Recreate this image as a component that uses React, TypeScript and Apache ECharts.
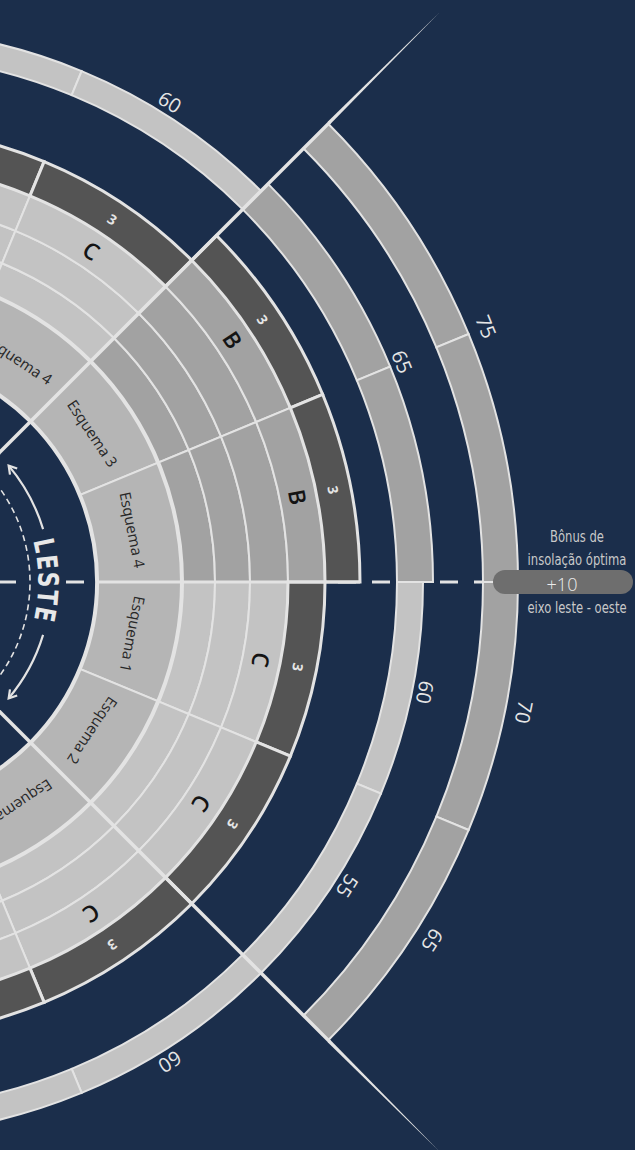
import React, { useEffect, useRef } from "react";
import * as echarts from "echarts";

// ---------------- data ----------------
// angular sectors (degrees, counter-clockwise from east), each 22.5° wide
const sectorEdges = [90, 67.5, 45, 22.5, 0, -22.5, -45, -67.5, -90];
const esquemaNames = ["", "Esquema 4", "Esquema 3", "Esquema 4", "Esquema 1", "Esquema 2", "Esquema 3", ""];
const gradeLetters = ["", "C", "B", "B", "C", "C", "C", ""];
const darkBandLabels = ["", "3", "3", "3", "3", "3", "3", ""];
const greyLevels = [3, 3, 4, 4, 3, 3, 3, 3];
const highlighted = [false, false, true, true, false, false, false, false];
// radial ring boundaries (radius-axis units)
const ringEdges = [227, 312, 345, 380, 418, 455, 490];
const middleScores = [60, 60, 65, 65, 60, 55, 60, 60];
const outerScores = [0, 0, 75, 75, 70, 65, 0, 0];
const middleLabelValues = [60, 65, 60, 55, 60];
const middleLabelAngles = [58, 22.5, -11.25, -32.5, -58];
const outerLabelValues = [75, 70, 65];
const outerLabelAngles = [22.5, -11.25, -32.5];
const directionLetters = ["L", "E", "S", "T", "E"];
const bonusTitle = ["Bônus de", "insolação óptima"];
const bonusValue = "+10";
const bonusAxis = "eixo leste - oeste";

// ---------------- style / layout ----------------
const BG = "#1b2e4b";
const LINE = "#e3e3e3";
const COLORS: Record<string, string> = {
  esquema: "#b5b5b5",
  light: "#c3c3c3",
  mid: "#a2a2a2",
  dark: "#545454",
};
const SANS = "'Open Sans', 'Noto Sans', sans-serif";
const NARROW = "'Liberation Sans Narrow', 'DejaVu Sans Condensed', 'Roboto Condensed', 'Roboto', sans-serif";
const MID_R0 = 527, MID_R1 = 553, MID_R1_HL = 563;
const OUT_R0 = 613, OUT_R1 = 648;

type Band = { r0: number; r1: number; aLo: number; aHi: number; kind: string };
type Lbl = { r: number; a: number; text: string; size: number; weight: any; fill: string; family: string };

const bands: Band[] = [];
const labels: Lbl[] = [];
for (let i = 0; i < sectorEdges.length - 1; i++) {
  const aHi = sectorEdges[i];
  const aLo = sectorEdges[i + 1];
  const mid = (aHi + aLo) / 2;
  const hl = highlighted[i];
  const L = greyLevels[i];
  bands.push({ r0: ringEdges[0], r1: ringEdges[1], aLo, aHi, kind: "esquema" });
  for (let k = 0; k < L; k++) {
    bands.push({ r0: ringEdges[1 + k], r1: ringEdges[2 + k], aLo, aHi, kind: hl ? "mid" : "light" });
  }
  bands.push({ r0: ringEdges[L + 1], r1: ringEdges[L + 2], aLo, aHi, kind: "dark" });
  if (middleScores[i]) {
    bands.push({ r0: MID_R0, r1: middleScores[i] > 60 ? MID_R1_HL : MID_R1, aLo, aHi, kind: hl ? "mid" : "light" });
  }
  if (outerScores[i]) {
    bands.push({ r0: OUT_R0, r1: OUT_R1, aLo, aHi, kind: "mid" });
  }
  if (esquemaNames[i]) {
    labels.push({ r: 268, a: mid, text: esquemaNames[i], size: 15, weight: 400, fill: "#272727", family: SANS });
  }
  if (gradeLetters[i]) {
    labels.push({ r: (ringEdges[L] + ringEdges[L + 1]) / 2, a: mid, text: gradeLetters[i], size: 23, weight: 600, fill: "#141414", family: SANS });
  }
  if (darkBandLabels[i]) {
    labels.push({ r: (ringEdges[L + 1] + ringEdges[L + 2]) / 2, a: mid, text: darkBandLabels[i], size: 14, weight: 700, fill: "#e6e6e6", family: SANS });
  }
}
middleLabelValues.forEach((v, k) => {
  labels.push({ r: (v > 60 ? MID_R1_HL : MID_R1) + 13, a: middleLabelAngles[k], text: String(v), size: 20, weight: 400, fill: "#e6e6e6", family: SANS });
});
outerLabelValues.forEach((v, k) => {
  labels.push({ r: OUT_R1 + 19, a: outerLabelAngles[k], text: String(v), size: 20, weight: 400, fill: "#e6e6e6", family: SANS });
});

// ---------------- geometry helpers (through the polar coordinate system) ----------------
function geo(params: any, api: any) {
  const cs = params.coordSys;
  const cx = cs.cx, cy = cs.cy;
  const P = (r: number, a: number): number[] => api.coord([r, a]);
  const R = (r: number) => {
    const p = P(r, 0);
    return Math.hypot(p[0] - cx, p[1] - cy);
  };
  const S = (a: number) => {
    const p = P(500, a);
    return Math.atan2(p[1] - cy, p[0] - cx);
  };
  return { cx, cy, P, R, S };
}

function angles(g: any, aLo: number, aHi: number) {
  const start = g.S(aHi);
  let end = g.S(aLo);
  while (end <= start) end += Math.PI * 2;
  return { start, end };
}

function sector(g: any, r0: number, r1: number, aLo: number, aHi: number, style: any) {
  const { start, end } = angles(g, aLo, aHi);
  return {
    type: "sector",
    shape: { cx: g.cx, cy: g.cy, r0: g.R(r0), r: g.R(r1), startAngle: start, endAngle: end, clockwise: true },
    style,
  };
}

function arc(g: any, r: number, aLo: number, aHi: number, style: any) {
  const { start, end } = angles(g, aLo, aHi);
  return {
    type: "arc",
    shape: { cx: g.cx, cy: g.cy, r: g.R(r), startAngle: start, endAngle: end, clockwise: true },
    style: { fill: "none", stroke: LINE, ...style },
  };
}

function radial(g: any, a: number, r0: number, r1: number, style: any) {
  const p0 = g.P(r0, a), p1 = g.P(r1, a);
  return {
    type: "line",
    shape: { x1: p0[0], y1: p0[1], x2: p1[0], y2: p1[1] },
    style: { fill: "none", stroke: LINE, ...style },
  };
}

function taper(g: any, a: number, r0: number, r1: number, half: number) {
  const c = g.P(r0, a), t = g.P(r1, a);
  const len = Math.hypot(t[0] - c[0], t[1] - c[1]);
  const dx = (t[0] - c[0]) / len, dy = (t[1] - c[1]) / len;
  const nx = -dy * half, ny = dx * half;
  return {
    type: "polygon",
    shape: { points: [[c[0] + nx, c[1] + ny], [t[0], t[1]], [c[0] - nx, c[1] - ny]] },
    style: { fill: LINE, stroke: "none" },
  };
}

function arrowHead(g: any, r: number, a: number, dirSign: number) {
  const p = g.P(r, a);
  const s = g.S(a);
  const dx = Math.sin(s) * dirSign, dy = -Math.cos(s) * dirSign;
  const len = 9, spread = 0.55;
  const rot = (vx: number, vy: number, t: number) => [vx * Math.cos(t) - vy * Math.sin(t), vx * Math.sin(t) + vy * Math.cos(t)];
  const l = rot(-dx, -dy, spread), rr = rot(-dx, -dy, -spread);
  return {
    type: "polyline",
    shape: { points: [[p[0] + l[0] * len, p[1] + l[1] * len], [p[0], p[1]], [p[0] + rr[0] * len, p[1] + rr[1] * len]] },
    style: { fill: "none", stroke: LINE, lineWidth: 2.2 },
  };
}

function tangentRotation(g: any, a: number) {
  return -(g.S(a) + Math.PI / 2);
}

// ---------------- render functions ----------------
function renderUnderlay(params: any, api: any) {
  const g = geo(params, api);
  const children: any[] = [
    radial(g, 0, 128, 146, { lineWidth: 3 }),
    radial(g, 0, 196, 625, { lineWidth: 3, lineDash: [18, 16] }),
    arc(g, 160, -60, 60, { lineWidth: 1.6, lineDash: [6, 4] }),
    arc(g, 181, 17, 40, { lineWidth: 2.2 }),
    arrowHead(g, 181, 40, 1),
    arc(g, 181, -40, -17, { lineWidth: 2.2 }),
    arrowHead(g, 181, -40, -1),
  ];
  directionLetters.forEach((ch, k) => {
    const a = 0.75 + (2 - k) * 5.6;
    const p = g.P(178, a);
    children.push({
      type: "text",
      x: p[0],
      y: p[1],
      rotation: tangentRotation(g, a),
      scaleX: 0.85,
      style: {
        text: ch,
        fill: "#e8e8e8",
        fontSize: 28,
        fontWeight: 700,
        fontFamily: NARROW,
        align: "center",
        verticalAlign: "middle",
      },
    });
  });
  return { type: "group", children };
}

function renderBand(params: any, api: any) {
  const g = geo(params, api);
  const b = bands[params.dataIndex];
  return sector(g, api.value(0), api.value(2), api.value(1), api.value(3), {
    fill: COLORS[b.kind],
    stroke: LINE,
    lineWidth: b.kind === "dark" ? 3 : 2,
  });
}

function renderOverlay(params: any, api: any) {
  const g = geo(params, api);
  return {
    type: "group",
    children: [
      arc(g, ringEdges[0], -90, 90, { lineWidth: 4 }),
      arc(g, ringEdges[1], -90, 90, { lineWidth: 4 }),
      radial(g, 0, ringEdges[0], ringEdges[ringEdges.length - 1], { lineWidth: 3 }),
      radial(g, 45, 0, 650, { lineWidth: 3.5 }),
      taper(g, 45, 649, 805, 1.75),
      radial(g, -45, 0, 650, { lineWidth: 3.5 }),
      taper(g, -45, 649, 805, 1.75),
    ],
  };
}

function renderLabel(params: any, api: any) {
  const g = geo(params, api);
  const l = labels[params.dataIndex];
  const p = g.P(api.value(0), api.value(1));
  return {
    type: "text",
    x: p[0],
    y: p[1],
    rotation: tangentRotation(g, api.value(1)),
    style: {
      text: l.text,
      fill: l.fill,
      fontSize: l.size,
      fontWeight: l.weight,
      fontFamily: l.family,
      align: "center",
      verticalAlign: "middle",
    },
  };
}

function renderBadge(params: any, api: any) {
  const g = geo(params, api);
  const left = g.P(623, 0);
  const right = g.P(763, 0);
  const valueAt = g.P(692, 0);
  const textAt = g.P(707, 0);
  const y = left[1];
  const txt = (x: number, yy: number, text: string, size: number, fill: string, family: string, weight: any, sx: number) => ({
    type: "text",
    x,
    y: yy,
    scaleX: sx,
    style: { text, fill, fontSize: size, fontFamily: family, fontWeight: weight, align: "center", verticalAlign: "middle" },
  });
  return {
    type: "group",
    children: [
      {
        type: "rect",
        shape: { x: left[0], y: y - 12, width: right[0] - left[0], height: 24, r: 12 },
        style: { fill: "#6e6e6e", stroke: "none" },
      },
      txt(valueAt[0], y + 2, bonusValue, 18, "#ececec", SANS, 300, 1),
      txt(textAt[0], y - 45, bonusTitle[0], 15, "#c9c9c9", NARROW, 400, 0.86),
      txt(textAt[0], y - 22, bonusTitle[1], 15, "#c9c9c9", NARROW, 400, 0.86),
      txt(textAt[0], y + 26, bonusAxis, 15, "#c9c9c9", NARROW, 400, 0.86),
    ],
  };
}

function buildOption(): any {
  const one = [[0, 0]];
  return {
    animation: false,
    backgroundColor: BG,
    polar: { center: [-130, 582], radius: [0, 700] },
    angleAxis: { type: "value", min: -180, max: 180, startAngle: 180, clockwise: false, show: false },
    radiusAxis: { type: "value", min: 0, max: 700, show: false },
    series: [
      { type: "custom", coordinateSystem: "polar", data: one, renderItem: renderUnderlay, silent: true, z: 1 },
      {
        type: "custom",
        coordinateSystem: "polar",
        data: bands.map((b) => [b.r0, b.aLo, b.r1, b.aHi]),
        renderItem: renderBand,
        silent: true,
        z: 2,
      },
      { type: "custom", coordinateSystem: "polar", data: one, renderItem: renderOverlay, silent: true, z: 3 },
      {
        type: "custom",
        coordinateSystem: "polar",
        data: labels.map((l) => [l.r, l.a]),
        renderItem: renderLabel,
        silent: true,
        z: 4,
      },
      { type: "custom", coordinateSystem: "polar", data: one, renderItem: renderBadge, silent: true, z: 5 },
    ],
  };
}

export default function App() {
  const ref = useRef<HTMLDivElement>(null);
  useEffect(() => {
    if (!ref.current) return;
    const chart = echarts.init(ref.current, undefined, { renderer: "svg" });
    chart.setOption(buildOption());
    return () => chart.dispose();
  }, []);
  return (
    <div
      ref={ref}
      style={{ position: "fixed", left: 0, top: 0, width: 635, height: 1150, background: BG }}
    />
  );
}
